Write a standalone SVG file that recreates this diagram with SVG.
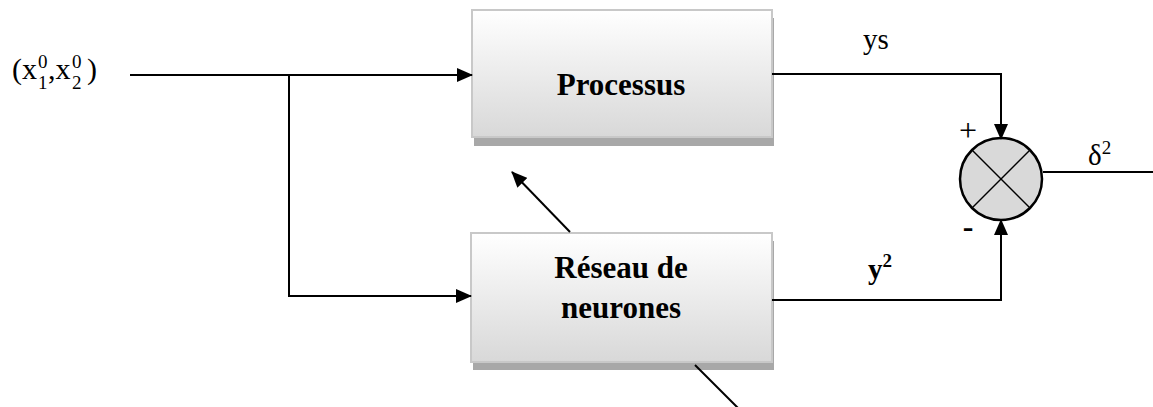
<svg xmlns="http://www.w3.org/2000/svg" width="1153" height="407" viewBox="0 0 1153 407">
<style>
.t{font-family:"Liberation Serif","Times New Roman",serif;fill:#000}
.b{font-weight:bold}
.ln{stroke:#000;stroke-width:2;fill:none}
.box{fill:url(#g);stroke:#c8c8c8;stroke-width:2}
.sh{fill:#a8a8a8}
</style>
<defs>
<linearGradient id="g" x1="0" y1="0" x2="0" y2="1">
<stop offset="0" stop-color="#ffffff"/>
<stop offset="1" stop-color="#d8d8d8"/>
</linearGradient>
<marker id="ah" markerWidth="16" markerHeight="14" refX="15" refY="7" orient="auto" markerUnits="userSpaceOnUse">
<path d="M0,0 L16,7 L0,14 Z" fill="#000"/>
</marker>
</defs>
<rect width="1153" height="407" fill="#fff"/>
<g id="processus">
<rect class="sh" x="474" y="18" width="300" height="128"/>
<rect class="box" x="472" y="10" width="300" height="127"/>
<text class="t b" x="621" y="95" font-size="31" text-anchor="middle">Processus</text>
</g>
<g id="reseau">
<rect class="sh" x="473" y="241" width="301" height="129"/>
<rect class="box" x="471" y="233" width="301" height="129"/>
<text class="t b" x="621" y="278" font-size="31" text-anchor="middle">Réseau de</text>
<text class="t b" x="621" y="318" font-size="31" text-anchor="middle">neurones</text>
</g>
<g id="comparateur">
<circle cx="1001" cy="179" r="41" fill="#d9d9d9" stroke="#000" stroke-width="2.5"/>
<line x1="972" y1="150" x2="1030" y2="208" stroke="#000" stroke-width="1.5"/>
<line x1="1030" y1="150" x2="972" y2="208" stroke="#000" stroke-width="1.5"/>
<text class="t" x="968" y="141" font-size="32" text-anchor="middle">+</text>
<text class="t b" x="968" y="237" font-size="32" text-anchor="middle">-</text>
</g>
<g id="labels">
<text class="t" font-size="30"><tspan x="12" y="79">(x</tspan><tspan x="38" y="89" font-size="19">1</tspan><tspan x="38" y="68" font-size="19">0</tspan><tspan x="48" y="79">,x</tspan><tspan x="72" y="89" font-size="19">2</tspan><tspan x="72" y="68" font-size="19">0</tspan><tspan x="87" y="79">)</tspan></text>
<text class="t" x="863" y="49" font-size="29">ys</text>
<text class="t b" x="868" y="279" font-size="29">y<tspan font-size="19" dy="-12">2</tspan></text>
<text class="t" x="1088" y="165" font-size="29">δ<tspan font-size="19" dy="-11">2</tspan></text>
</g>
<g id="connectors">
<line class="ln" x1="130" y1="75" x2="472" y2="75" marker-end="url(#ah)"/>
<polyline class="ln" points="289,75 289,296 471,296" marker-end="url(#ah)"/>
<polyline class="ln" points="772,74 1001,74 1001,139" marker-end="url(#ah)"/>
<polyline class="ln" points="772,300 1001,300 1001,220" marker-end="url(#ah)"/>
<line class="ln" x1="1043" y1="172" x2="1153" y2="172"/>
<line class="ln" x1="570" y1="232" x2="512" y2="172" marker-end="url(#ah)"/>
<line class="ln" x1="695" y1="365" x2="739" y2="409"/>
</g>
</svg>
